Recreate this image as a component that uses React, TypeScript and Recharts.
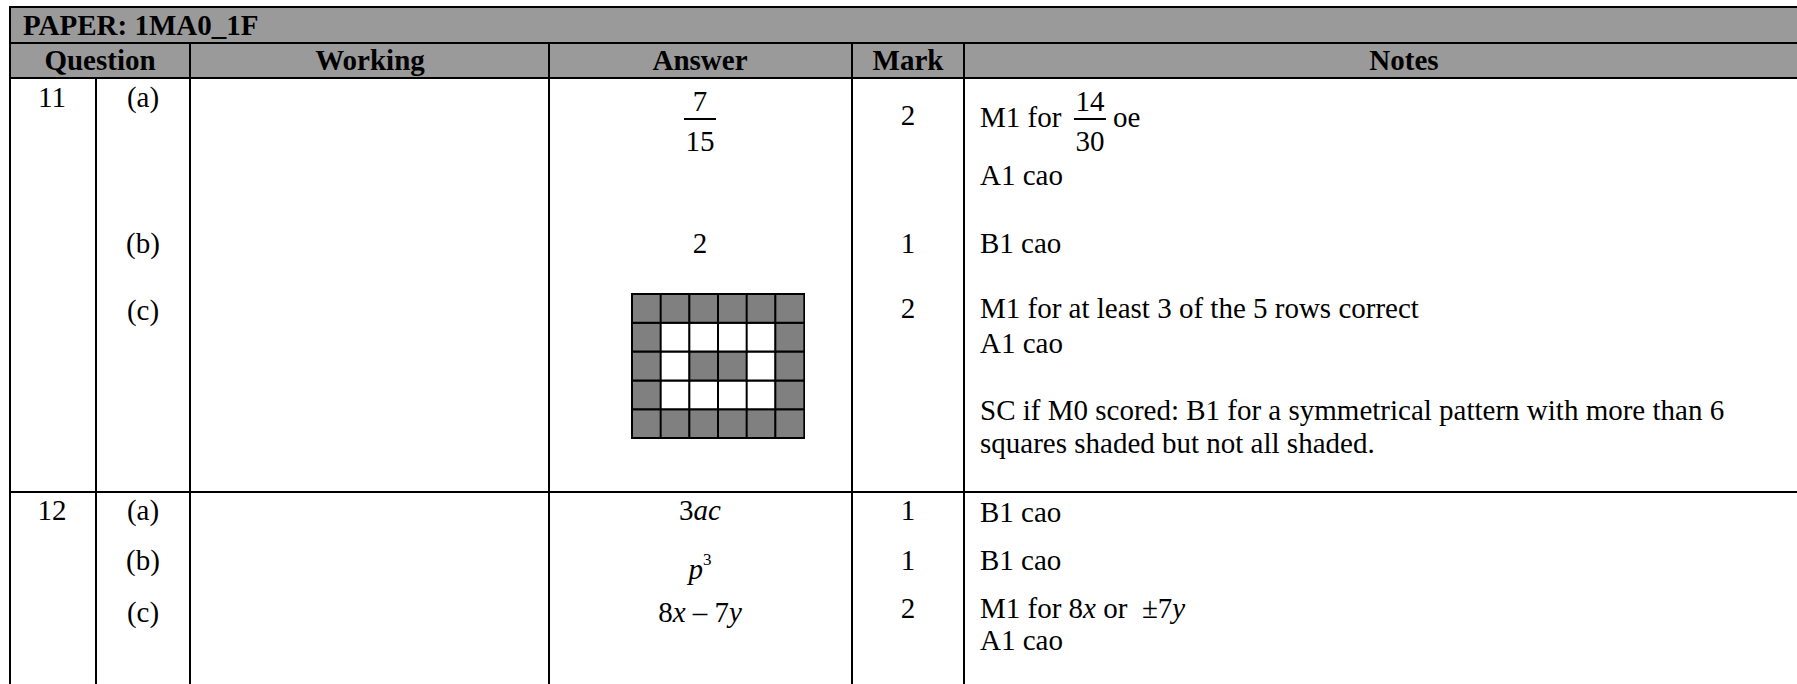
import React from "react";
import { BarChart, Bar, XAxis, YAxis, Cell } from "recharts";

// Answer grid for 11(c): 1 = shaded, 0 = white (top row first)
const gridColumns = ["c1", "c2", "c3", "c4", "c5", "c6"];
const gridRow1 = [1, 1, 1, 1, 1, 1];
const gridRow2 = [1, 0, 0, 0, 0, 1];
const gridRow3 = [1, 0, 1, 1, 0, 1];
const gridRow4 = [1, 0, 0, 0, 0, 1];
const gridRow5 = [1, 1, 1, 1, 1, 1];

const paperTitle = "PAPER: 1MA0_1F";
const headerLabels = ["Question", "Working", "Answer", "Mark", "Notes"];
const questionNumbers = ["11", "12"];
const partLabels = ["(a)", "(b)", "(c)"];
const marks11 = ["2", "1", "2"];
const marks12 = ["1", "1", "2"];

const SHADE = "#808080";
const HEADER_BG = "#9a9a9a";
const FONT = '"Liberation Serif", "Times New Roman", serif';

// stacked bottom-up, so the last row goes first
const stackRows = [gridRow5, gridRow4, gridRow3, gridRow2, gridRow1];
const gridData = gridColumns.map((col, i) => {
  const d: Record<string, any> = { col };
  stackRows.forEach((row, r) => {
    d[`r${r}`] = 1;
  });
  return d;
});

function Txt({
  x,
  y,
  align = "left",
  bold = false,
  children,
}: {
  x: number;
  y: number;
  align?: "left" | "center";
  bold?: boolean;
  children: React.ReactNode;
}) {
  const w = 900;
  const left = align === "left" ? x : x - w / 2;
  return (
    <div
      style={{
        position: "absolute",
        left,
        top: y - 17,
        width: w,
        height: 34,
        lineHeight: "34px",
        fontSize: 29,
        fontWeight: bold ? 700 : 400,
        textAlign: align,
        whiteSpace: "pre",
      }}
    >
      {children}
    </div>
  );
}

function Frac({ x, num, den }: { x: number; num: string; den: string }) {
  return (
    <>
      <Txt x={x} y={101} align="center">
        {num}
      </Txt>
      <div
        style={{
          position: "absolute",
          left: x - 16,
          top: 118,
          width: 32,
          height: 2,
          background: "#000",
        }}
      />
      <Txt x={x} y={141} align="center">
        {den}
      </Txt>
    </>
  );
}

function HLine({ y, x1 = 9, x2 = 1797 }: { y: number; x1?: number; x2?: number }) {
  return (
    <div
      style={{ position: "absolute", left: x1, top: y - 1, width: x2 - x1, height: 2, background: "#000" }}
    />
  );
}

function VLine({ x, y1 }: { x: number; y1: number }) {
  return (
    <div
      style={{ position: "absolute", left: x - 1, top: y1, width: 2, height: 684 - y1, background: "#000" }}
    />
  );
}

function ShadeGrid() {
  return (
    <BarChart
      width={174}
      height={146}
      data={gridData}
      margin={{ top: 1, right: 1, bottom: 1, left: 1 }}
      barCategoryGap={0}
      barGap={0}
    >
      <XAxis dataKey="col" hide />
      <YAxis hide domain={[0, 5]} />
      {stackRows.map((row, r) => (
        <Bar
          key={r}
          dataKey={`r${r}`}
          stackId="g"
          stroke="#000"
          strokeWidth={2}
          isAnimationActive={false}
        >
          {row.map((v, i) => (
            <Cell key={i} fill={v ? SHADE : "#fff"} />
          ))}
        </Bar>
      ))}
    </BarChart>
  );
}

export default function App() {
  const colX = { left: 10, q: 96, work: 190, ans: 549, mark: 852, notes: 964 };
  const headerCenters = [100, 370, 700, 908, 1404];
  const rows11 = [97, 243, 310];
  const rows12 = [510, 560, 612];
  const notesX = 980;

  return (
    <div
      style={{
        position: "absolute",
        left: 0,
        top: 0,
        width: 1797,
        height: 684,
        overflow: "hidden",
        background: "#fff",
        fontFamily: FONT,
        color: "#000",
      }}
    >
      {/* header bands */}
      <div style={{ position: "absolute", left: colX.left, top: 7, width: 1797, height: 71, background: HEADER_BG }} />
      <Txt x={23} y={25} bold>
        {paperTitle}
      </Txt>
      {headerLabels.map((h, i) => (
        <Txt key={h} x={headerCenters[i]} y={60} align="center" bold>
          {h}
        </Txt>
      ))}

      {/* rules */}
      <HLine y={7} />
      <HLine y={43} />
      <HLine y={78} />
      <HLine y={492} />
      <VLine x={colX.left} y1={6} />
      <VLine x={colX.q} y1={78} />
      <VLine x={colX.work} y1={43} />
      <VLine x={colX.ans} y1={43} />
      <VLine x={colX.mark} y1={43} />
      <VLine x={colX.notes} y1={43} />

      {/* question 11 */}
      <Txt x={52} y={97} align="center">
        {questionNumbers[0]}
      </Txt>
      {partLabels.map((p, i) => (
        <Txt key={p} x={143} y={rows11[i]} align="center">
          {p}
        </Txt>
      ))}
      {marks11.map((m, i) => (
        <Txt key={i} x={908} y={i === 0 ? 115 : i === 2 ? 308 : rows11[i]} align="center">
          {m}
        </Txt>
      ))}
      <Frac x={700} num="7" den="15" />
      <Txt x={700} y={243} align="center">
        2
      </Txt>
      <div style={{ position: "absolute", left: 631, top: 293 }}>
        <ShadeGrid />
      </div>

      <Txt x={notesX} y={117}>
        M1 for
      </Txt>
      <Frac x={1090} num="14" den="30" />
      <Txt x={1113} y={117}>
        oe
      </Txt>
      <Txt x={notesX} y={175}>
        A1 cao
      </Txt>
      <Txt x={notesX} y={243}>
        B1 cao
      </Txt>
      <Txt x={notesX} y={308}>
        M1 for at least 3 of the 5 rows correct
      </Txt>
      <Txt x={notesX} y={343}>
        A1 cao
      </Txt>
      <Txt x={notesX} y={410}>
        SC if M0 scored: B1 for a symmetrical pattern with more than 6
      </Txt>
      <Txt x={notesX} y={443}>
        squares shaded but not all shaded.
      </Txt>

      {/* question 12 */}
      <Txt x={52} y={510} align="center">
        {questionNumbers[1]}
      </Txt>
      {partLabels.map((p, i) => (
        <Txt key={p + "12"} x={143} y={rows12[i]} align="center">
          {p}
        </Txt>
      ))}
      {marks12.map((m, i) => (
        <Txt key={"m12" + i} x={908} y={rows12[i] - (i === 2 ? 4 : 0)} align="center">
          {m}
        </Txt>
      ))}
      <Txt x={700} y={510} align="center">
        3<i>ac</i>
      </Txt>
      <Txt x={700} y={560} align="center">
        <i>p</i>
        <span style={{ fontSize: 17, verticalAlign: "14px" }}>3</span>
      </Txt>
      <Txt x={700} y={612} align="center">
        8<i>x</i> – 7<i>y</i>
      </Txt>
      <Txt x={notesX} y={512}>
        B1 cao
      </Txt>
      <Txt x={notesX} y={560}>
        B1 cao
      </Txt>
      <Txt x={notesX} y={608}>
        M1 for 8<i>x</i> or  ±7<i>y</i>
      </Txt>
      <Txt x={notesX} y={640}>
        A1 cao
      </Txt>
    </div>
  );
}
